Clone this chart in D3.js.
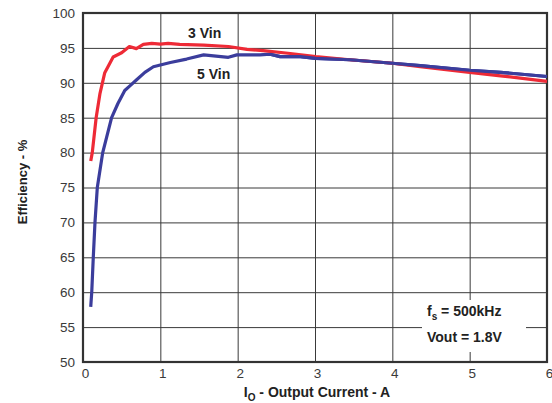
<!DOCTYPE html>
<html>
<head>
<meta charset="utf-8">
<script src="https://cdn.jsdelivr.net/npm/d3@7"></script>
<style>
  html, body { margin: 0; padding: 0; background: #fff; }
  svg { display: block; font-family: "Liberation Sans", Arial, sans-serif; }
</style>
</head>
<body>
<svg id="chart" width="552" height="403"></svg>
<script>
// ---- data ----
const xTicks = [0, 1, 2, 3, 4, 5, 6];
const yTicks = [50, 55, 60, 65, 70, 75, 80, 85, 90, 95, 100];

const vin3Current = [0.10, 0.12, 0.17, 0.22, 0.28, 0.39, 0.50, 0.60, 0.69, 0.78, 0.89, 1.00, 1.10, 1.25, 1.56, 1.88, 2.12, 2.33, 2.68, 3.01, 3.45, 4.00, 4.36, 5.00, 5.40, 6.00];
const vin3Eff     = [78.8, 80.0, 85.0, 88.5, 91.4, 93.7, 94.3, 95.2, 94.9, 95.5, 95.65, 95.55, 95.65, 95.5, 95.4, 95.2, 94.8, 94.6, 94.2, 93.75, 93.3, 92.8, 92.3, 91.5, 91.0, 90.2];

const vin5Current = [0.10, 0.113, 0.133, 0.155, 0.185, 0.255, 0.37, 0.45, 0.54, 0.61, 0.69, 0.80, 0.91, 1.13, 1.34, 1.56, 1.88, 1.99, 2.29, 2.42, 2.55, 2.81, 3.01, 3.45, 4.00, 4.36, 5.00, 5.40, 6.00];
const vin5Eff     = [57.9, 60.0, 65.0, 70.0, 75.0, 80.0, 85.0, 87.0, 88.9, 89.6, 90.4, 91.5, 92.3, 92.9, 93.4, 94.0, 93.65, 94.0, 94.0, 94.1, 93.75, 93.75, 93.5, 93.3, 92.8, 92.45, 91.8, 91.5, 90.9];

const seriesNames = ["3 Vin", "5 Vin"];
const annotation = ["500kHz", "Vout = 1.8V"];

// ---- layout ----
const svg = d3.select("#chart");
const L = 83, R = 547, T = 13, B = 362;
const x = d3.scaleLinear().domain([0, 6]).range([L, R]);
const y = d3.scaleLinear().domain([50, 100]).range([B, T]);

// grid via axes
const gx = svg.append("g").attr("transform", `translate(0,${B})`)
  .call(d3.axisBottom(x).tickValues(xTicks).tickSize(-(B - T)).tickPadding(6).tickFormat(d3.format("d")));
const gy = svg.append("g").attr("transform", `translate(${L},0)`)
  .call(d3.axisLeft(y).tickValues(yTicks).tickSize(-(R - L)).tickPadding(8).tickFormat(d3.format("d")));

[gx, gy].forEach(g => {
  g.select(".domain").remove();
  g.selectAll(".tick line").attr("stroke", "#3a3a3a").attr("stroke-width", 1);
  g.selectAll(".tick text").attr("fill", "#3a3a3a").style("font-size", "13.5px")
    .style("font-family", "'Liberation Sans', Arial, sans-serif");
});
gx.selectAll(".tick text").attr("dx", 2);

// annotation white box (covers grid)
svg.append("rect").attr("x", 422).attr("y", 300).attr("width", 104).attr("height", 52).attr("fill", "#fff");

// frame
svg.append("rect").attr("x", L).attr("y", T).attr("width", R - L).attr("height", B - T)
  .attr("fill", "none").attr("stroke", "#333").attr("stroke-width", 2.2);

// lines
const line = d3.line().x(d => x(d[0])).y(d => y(d[1])).curve(d3.curveLinear);
const d3v = vin3Current.map((c, i) => [c, vin3Eff[i]]);
const d5v = vin5Current.map((c, i) => [c, vin5Eff[i]]);

svg.append("path").datum(d5v).attr("d", line).attr("fill", "none")
  .attr("stroke", "#3b3d9c").attr("stroke-width", 3.2).attr("stroke-linejoin", "round");
svg.append("path").datum(d3v).attr("d", line).attr("fill", "none")
  .attr("stroke", "#ee2a36").attr("stroke-width", 3.2).attr("stroke-linejoin", "round");
// blue drawn on top at the right where it is visible above red
svg.append("path").datum(d5v.filter(d => d[0] >= 2.4)).attr("d", line).attr("fill", "none")
  .attr("stroke", "#3b3d9c").attr("stroke-width", 3.2).attr("stroke-linejoin", "round");

// series labels
const bold = "bold";
svg.append("text").attr("x", 188).attr("y", 38).attr("font-size", 14).attr("font-weight", bold)
  .attr("fill", "#222").text(seriesNames[0]);
svg.append("text").attr("x", 197).attr("y", 79).attr("font-size", 14).attr("font-weight", bold)
  .attr("fill", "#222").text(seriesNames[1]);

// annotation text
const t1 = svg.append("text").attr("x", 427).attr("y", 316).attr("font-size", 14).attr("font-weight", bold).attr("fill", "#222");
t1.append("tspan").text("f");
t1.append("tspan").attr("font-size", 10).attr("dy", 4).text("s");
t1.append("tspan").attr("dy", -4).text(" = " + annotation[0]);
svg.append("text").attr("x", 427).attr("y", 342).attr("font-size", 14).attr("font-weight", bold)
  .attr("fill", "#222").text(annotation[1]);

// axis titles
svg.append("text").attr("transform", "translate(27,182) rotate(-90)").attr("text-anchor", "middle")
  .attr("font-size", 13).attr("font-weight", bold).attr("fill", "#222").text("Efficiency - %");

const xt = svg.append("text").attr("x", 317).attr("y", 397).attr("text-anchor", "middle")
  .attr("font-size", 14).attr("font-weight", bold).attr("fill", "#222");
xt.append("tspan").text("I");
xt.append("tspan").attr("font-size", 10).attr("dy", 4).text("O");
xt.append("tspan").attr("dy", -4).text(" - Output Current - A");
</script>
</body>
</html>
